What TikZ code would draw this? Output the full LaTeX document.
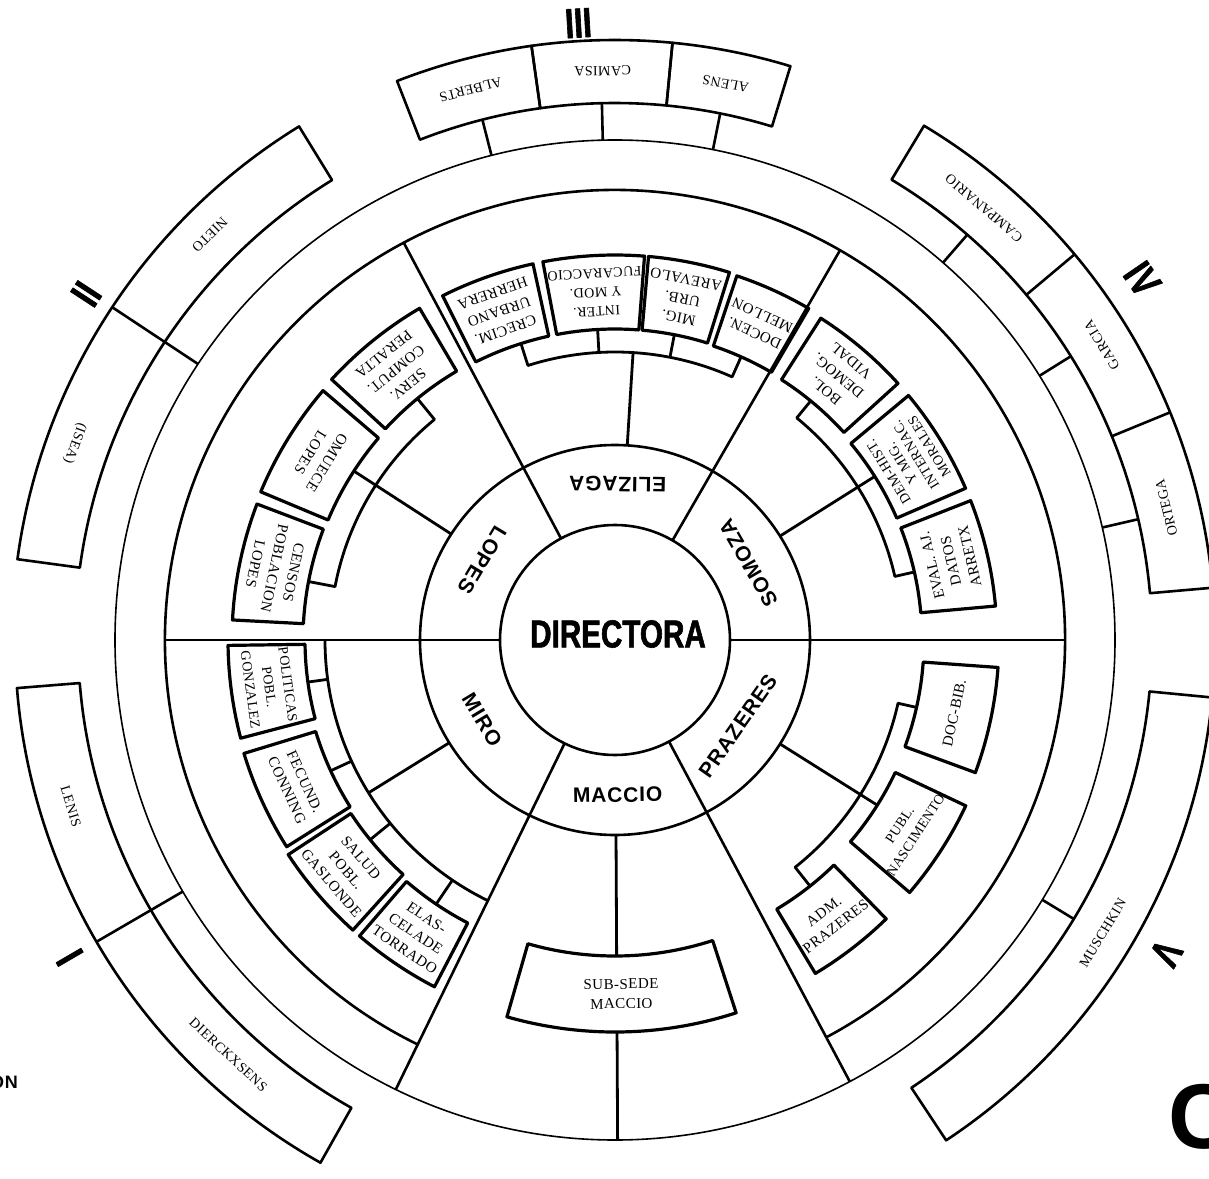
\documentclass[tikz,border=0pt]{standalone}
\usepackage{fontspec}
\setmainfont[LetterSpace=3]{Liberation Serif}
\newfontfamily\lab[LetterSpace=4]{Liberation Sans}
\newfontfamily\heavy[FakeStretch=0.76,BoldFeatures={FakeBold=1.5}]{Liberation Sans}
% annular box: [style]{start}{end}{r in}{r out}
\newcommand\annbox[5][boxline]{\draw[#1] (#2:#4pt) arc[start angle=#2,end angle=#3,radius=#4pt] -- (#3:#5pt) arc[start angle=#3,end angle=#2,radius=#5pt] -- cycle;}
% radial line: [style]{angle}{r1}{r2}
\newcommand\rline[4][conn]{\draw[#1] (#2:#3pt) -- (#2:#4pt);}
% label: [style]{name}{angle}{radius}{text}
\newcommand\blab[5][boxtxt]{\node[#1,rotate=#3+90] (#2) at (#3:#4pt) {#5};}
\begin{document}
\begin{tikzpicture}[x=1pt,y=1pt,line join=round,
  sec/.style={line width=2.6pt},
  boxline/.style={line width=3.2pt},
  conn/.style={line width=2.8pt},
  grp/.style={line width=2.6pt},
  thincirc/.style={line width=1.6pt},
  boxtxt/.style={font=\fontsize{15}{19.5}\selectfont,align=center,inner sep=0pt},
  narrowbox/.style={font=\fontsize{14}{19}\selectfont,align=center,inner sep=0pt},
  tightbox/.style={font=\fontsize{14}{16}\selectfont,align=center,inner sep=0pt},
  grptxt/.style={font=\fontsize{14}{16}\selectfont,inner sep=0pt},
  ringtxt/.style={font=\lab\bfseries\fontsize{21}{24}\selectfont,inner sep=0pt},
  numtxt/.style={font=\heavy\bfseries\fontsize{42}{42}\selectfont,inner sep=0pt}]
\useasboundingbox (-615,-538) rectangle (594,640);

% ---- circles and sector lines
\draw[sec] (0,0) circle[radius=115pt];
\draw[sec] (0,0) circle[radius=195pt];
\draw[sec] (-62:450pt) arc[start angle=-62,end angle=244,radius=450pt];
\draw[thincirc] (0,0) circle[radius=500pt];
\foreach \a in {0,60,118,180} {\rline[sec]{\a}{115}{450}}
\foreach \a in {244,298} {\rline[sec]{\a}{115}{500}}

% ---- ELIZAGA
\annbox{102.3}{116.6}{311}{385}
\annbox{85.6}{100.8}{311}{385}
\annbox{72.7}{85}{311}{385}
\annbox{59.7}{71.5}{310}{384}
\draw[conn] (66:310pt) -- (66:288pt) arc[start angle=66,end angle=107.6,radius=288pt] -- (107.6:311pt);
\rline{93.2}{288}{311}
\rline{79}{288}{311}
\rline{86.4}{195}{288}

% ---- SOMOZA
\annbox{42.2}{57.4}{309}{382}
\annbox{23.4}{39.8}{307}{382}
\annbox{5.1}{21.4}{307}{382}
\draw[conn] (12.8:307pt) -- (12.8:287pt) arc[start angle=12.8,end angle=50.7,radius=287pt] -- (50.7:309pt);
\rline{32.2}{195}{307}

% ---- LOPES
\annbox{120.5}{137.4}{312}{385}
\annbox{139.5}{157.3}{311}{384}
\annbox{159.2}{177}{312}{383}
\draw[conn] (129.3:312pt) -- (129.3:285pt) arc[start angle=129.3,end angle=169.2,radius=285pt] -- (169.2:312pt);
\rline{147.1}{195}{311}

% ---- MIRO
\annbox{180.8}{194.7}{310}{387}
\annbox{197}{212.2}{313}{388}
\annbox{213.3}{227.9}{316}{391}
\annbox{229.2}{242.5}{319}{391}
\draw[conn] (180:290pt) arc[start angle=180,end angle=244,radius=290pt];
\rline{187.8}{290}{310}
\rline{204.7}{290}{313}
\rline{219.2}{290}{316}
\rline{235.9}{290}{319}
\rline{211.8}{195}{290}

% ---- PRAZERES
\annbox{-20.2}{-4.1}{309}{384}
\annbox{-40.6}{-25.3}{310}{388}
\annbox{-59}{-45.8}{314}{389}
\draw[conn] (-12.6:309pt) -- (-12.6:290pt) arc[start angle=-12.6,end angle=-51.6,radius=290pt] -- (-51.6:314pt);
\rline{-32.2}{195}{310}

% ---- MACCIO
\annbox{254}{288}{316}{392}
\rline{270.3}{195}{316}
\rline{270.3}{392}{500}

% ---- group III
\annbox[grp]{98}{111.3}{537}{600}
\annbox[grp]{84.5}{98}{537}{600}
\annbox[grp]{73}{84.5}{537}{600}
\foreach \a in {104.3,91.4,78.7} {\rline[grp]{\a}{500}{537}}
% ---- group II
\annbox[grp]{121.6}{172.3}{540}{603}
\rline[grp]{146.5}{500}{603}
% ---- group I
\annbox[grp]{184.6}{240.6}{537}{600}
\rline[grp]{210.2}{500}{600}
% ---- group IV
\annbox[grp]{5}{59}{537}{600}
\rline[grp]{22.3}{537}{600}
\rline[grp]{40}{537}{600}
\foreach \a in {49,31.9,13} {\rline[grp]{\a}{500}{537}}
% ---- group V
\annbox[grp]{-56.5}{-5.5}{537}{600}
\rline[grp]{-31.3}{500}{537}

% ---- centre and ring labels
\node[font=\heavy\bfseries\fontsize{39}{39}\selectfont,inner sep=0pt] (dir) at (3,6) {DIRECTORA};
\blab[ringtxt]{eliz}{89}{156}{ELIZAGA}
\blab[ringtxt]{somo}{30}{154}{SOMOZA}
\blab[ringtxt]{lope}{149}{155}{LOPES}
\blab[ringtxt]{miro}{211}{155}{MIRO}
\blab[ringtxt]{macc}{271}{155}{MACCIO}
\blab[ringtxt]{praz}{-35}{150}{PRAZERES}

% ---- sub-box labels
\blab{crec}{109.45}{348}{CRECIM.\\URBANO\\HERRERA}
\blab[narrowbox]{inter}{93.2}{348}{INTER.\\Y MOD.\\FUCARACCIO}
\blab{mig}{78.85}{348}{MIG.\\URB.\\AREVALO}
\blab{docen}{65.6}{347}{DOCEN.\\MELLON}
\blab{bol}{49.8}{346}{BOL.\\DEMOG.\\VIDAL}
\blab[tightbox]{dem}{31.6}{345}{DEM-HIST.\\Y MIG.\\INTERNAC.\\MORALES}
\blab{eval}{13.25}{345}{EVAL. AJ.\\DATOS\\ARRETX}
\blab{serv}{128.95}{348}{SERV.\\COMPUT.\\PERALTA}
\blab{omue}{148.4}{348}{OMUECE\\LOPES}
\blab{cens}{168.1}{348}{CENSOS\\POBLACION\\LOPES}
\blab[narrowbox]{poli}{187.75}{349}{POLITICAS\\POBL.\\GONZALEZ}
\blab{fecu}{204.6}{351}{FECUND.\\CONNING}
\blab{salu}{220.6}{354}{SALUD\\POBL.\\GASLONDE}
\blab{elas}{235.85}{355}{ELAS-\\CELADE\\TORRADO}
\blab{docb}{-12.15}{347}{DOC-BIB.}
\blab[narrowbox]{publ}{-33}{349}{PUBL.\\NASCIMENTO}
\blab{adm}{-52.4}{352}{ADM.\\PRAZERES}
\blab{subs}{271}{354}{SUB-SEDE\\MACCIO}

% ---- group labels
\blab[grptxt]{albe}{104.7}{569}{ALBERTS}
\blab[grptxt]{cami}{91.25}{569}{CAMISA}
\blab[grptxt]{alen}{78.75}{567}{ALENS}
\blab[grptxt]{niet}{135}{573}{NIETO}
\blab[grptxt]{isea}{160}{575}{(ISEA)}
\blab[grptxt]{leni}{197}{569}{LENIS}
\blab[grptxt]{dier}{227}{567}{DIERCKXSENS}
\blab[grptxt]{musc}{-31}{569}{MUSCHKIN}
\blab[grptxt]{camp}{49.5}{568}{CAMPANARIO}
\blab[grptxt]{garc}{31.2}{569}{GARCIA}
\blab[grptxt]{orte}{13.5}{567}{ORTEGA}

% ---- roman numerals
\node[numtxt,rotate=3.4] (n3) at (93.4:618pt) {III};
\node[numtxt,rotate=56.8] (n2) at (146.8:632pt) {II};
\node[numtxt,rotate=120.2] (n1) at (210.2:631pt) {I};
\node[numtxt,rotate=-55.6] (n4) at (34.4:639pt) {IV};
\node[numtxt,rotate=-119.6] (n5) at (-29.6:634pt) {V};

% ---- cut-off marginal text
\node[font=\lab\bfseries\fontsize{18}{18}\selectfont,anchor=east,inner sep=0pt] (on) at (-597,-442) {ON};
\node[font=\lab\bfseries\fontsize{92}{92}\selectfont,anchor=west,inner sep=0pt] (cc) at (553,-477) {C};
\end{tikzpicture}
\end{document}
